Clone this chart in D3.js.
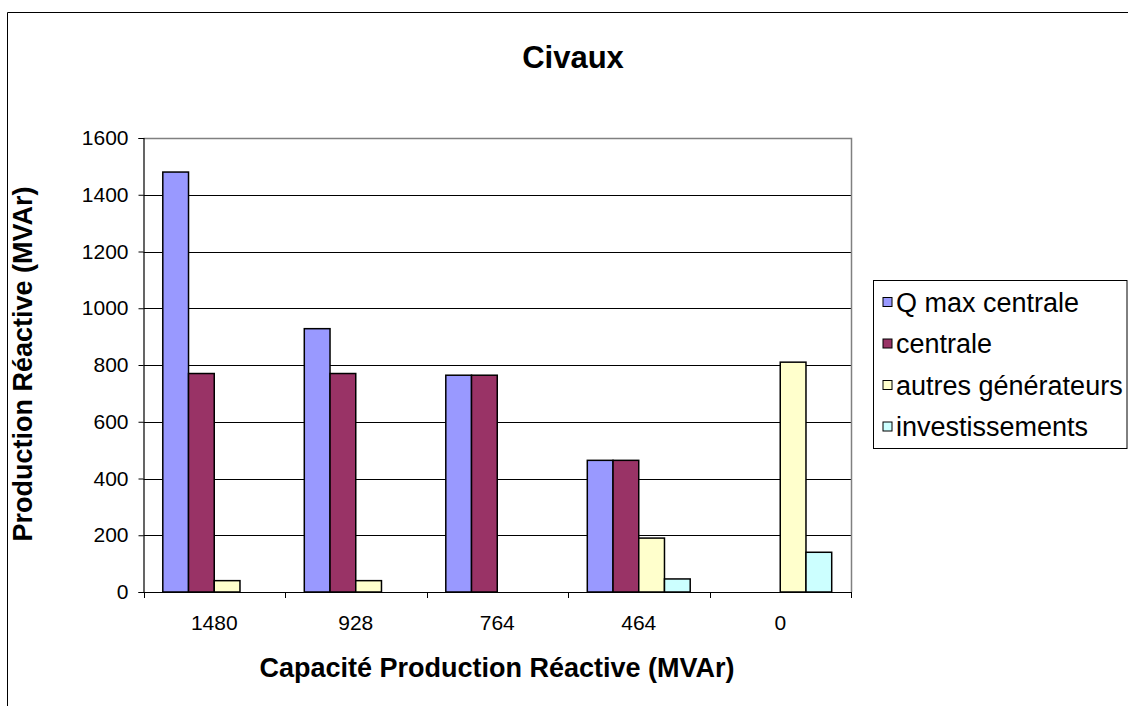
<!DOCTYPE html>
<html>
<head>
<meta charset="utf-8">
<script src="https://cdn.jsdelivr.net/npm/d3@7"></script>
<style>
  html, body { margin: 0; padding: 0; background: #fff; }
  svg { display: block; font-family: "Liberation Sans", Arial, sans-serif; }
</style>
</head>
<body>
<svg id="chart" width="1128" height="706"></svg>
<script>
// Categories: reactive production capacity (MVAr)
const categories = ["1480", "928", "764", "464", "0"];
const seriesNames = ["Q max centrale", "centrale", "autres générateurs", "investissements"];
const qMaxCentrale = [1480, 928, 764, 464, 0];
const centrale = [770, 770, 764, 464, 0];
const autresGenerateurs = [40, 40, 0, 190, 810];
const investissements = [0, 0, 0, 46, 140];
const yTicks = [0, 200, 400, 600, 800, 1000, 1200, 1400, 1600];
const colors = ["#9999FF", "#993366", "#FFFFCC", "#CCFFFF"];

const seriesValues = [qMaxCentrale, centrale, autresGenerateurs, investissements];

const svg = d3.select("#chart");

// Outer chart frame
svg.append("path")
  .attr("d", "M7.5,706 V12.5 H1128")
  .attr("fill", "none").attr("stroke", "#000").attr("stroke-width", 1);

const plot = { left: 143.5, right: 851, top: 138, bottom: 592 };

const x = d3.scaleBand().domain(categories).range([plot.left, plot.right]).paddingInner(0).paddingOuter(0);
const y = d3.scaleLinear().domain([0, 1600]).range([plot.bottom, plot.top]);

// Bars within a category: gap width 150% of a bar
const barW = x.bandwidth() / (seriesNames.length + 1.5);
const inner = d3.scaleBand().domain(seriesNames)
  .range([0.75 * barW, 0.75 * barW + barW * seriesNames.length]).padding(0);

// Gridlines
svg.append("g").selectAll("line").data(yTicks.filter(t => t > 0 && t < 1600)).join("line")
  .attr("x1", plot.left).attr("x2", plot.right)
  .attr("y1", d => Math.round(y(d)) + 0.5).attr("y2", d => Math.round(y(d)) + 0.5)
  .attr("stroke", "#000").attr("stroke-width", 1);

// Plot area border (top and right)
svg.append("path")
  .attr("d", `M${plot.left},${plot.top + 0.5} H${plot.right + 0.5} V${plot.bottom}`)
  .attr("fill", "none").attr("stroke", "#808080").attr("stroke-width", 1.5);

// Bars
const rows = [];
categories.forEach((c, i) => {
  seriesNames.forEach((s, j) => rows.push({ cat: c, series: s, j, value: seriesValues[j][i] }));
});
svg.append("g").selectAll("rect").data(rows.filter(d => d.value > 0)).join("rect")
  .attr("x", d => x(d.cat) + inner(d.series))
  .attr("width", inner.bandwidth())
  .attr("y", d => y(d.value))
  .attr("height", d => y(0) - y(d.value))
  .attr("fill", d => colors[d.j])
  .attr("stroke", "#000").attr("stroke-width", 1.5);

// Y axis
const yAxis = svg.append("g").attr("transform", `translate(${plot.left},0)`)
  .call(d3.axisLeft(y).tickValues(yTicks).tickFormat(d3.format("d")).tickSize(5).tickPadding(10));
yAxis.select(".domain").attr("stroke", "#000").attr("stroke-width", 1.2);
yAxis.selectAll(".tick line").attr("stroke", "#000");
yAxis.selectAll(".tick text").attr("font-size", 21).attr("fill", "#000")
  .attr("font-family", "Liberation Sans, Arial, sans-serif");

// X axis with ticks on category boundaries
const xAxisG = svg.append("g").attr("transform", `translate(0,${plot.bottom})`);
xAxisG.append("line").attr("x1", plot.left).attr("x2", plot.right + 0.5)
  .attr("y1", 0.5).attr("y2", 0.5).attr("stroke", "#000").attr("stroke-width", 1.2);
const boundaries = categories.map(c => x(c)).concat([plot.right]);
xAxisG.selectAll("line.tk").data(boundaries).join("line").attr("class", "tk")
  .attr("x1", d => Math.round(d) + 0.5).attr("x2", d => Math.round(d) + 0.5)
  .attr("y1", 0).attr("y2", 6).attr("stroke", "#000");
xAxisG.selectAll("text").data(categories).join("text")
  .attr("x", d => x(d) + x.bandwidth() / 2).attr("y", 38)
  .attr("text-anchor", "middle").attr("font-size", 21).attr("fill", "#000")
  .text(d => d);

// Title and axis titles
svg.append("text").attr("x", 573).attr("y", 68).attr("text-anchor", "middle")
  .attr("font-size", 31).attr("font-weight", "bold").text("Civaux");
svg.append("text").attr("x", 497).attr("y", 677).attr("text-anchor", "middle")
  .attr("font-size", 27).attr("font-weight", "bold").text("Capacité Production Réactive (MVAr)");
svg.append("text").attr("transform", "translate(32,364) rotate(-90)").attr("text-anchor", "middle")
  .attr("font-size", 27).attr("font-weight", "bold").text("Production Réactive (MVAr)");

// Legend
const legend = svg.append("g");
legend.append("rect").attr("x", 873.5).attr("y", 280.5).attr("width", 253.5).attr("height", 168)
  .attr("fill", "#fff").attr("stroke", "#000").attr("stroke-width", 1);
const item = legend.selectAll("g.item").data(seriesNames).join("g").attr("class", "item")
  .attr("transform", (d, i) => `translate(0,${302 + i * 41.5})`);
item.append("rect").attr("x", 883).attr("y", -4.5).attr("width", 9).attr("height", 9)
  .attr("fill", (d, i) => colors[i]).attr("stroke", "#000").attr("stroke-width", 1);
item.append("text").attr("x", 896).attr("y", 9.5).attr("font-size", 27).attr("fill", "#000")
  .text(d => d);
</script>
</body>
</html>
